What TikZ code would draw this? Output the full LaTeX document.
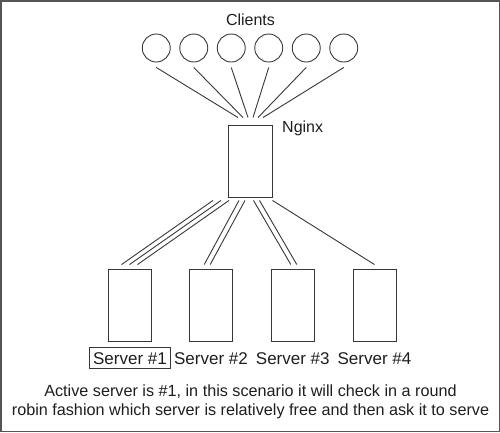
\documentclass[tikz,border=0pt]{standalone}
\usepackage{fontspec}
\setmainfont{Liberation Sans}
\definecolor{linec}{RGB}{55,55,55}
\definecolor{framec}{RGB}{85,85,85}
\definecolor{textc}{RGB}{30,30,30}
\begin{document}
\begin{tikzpicture}[x=1pt,y=-1pt,
  ln/.style={draw=linec, line width=0.9pt},
  client/.style={circle, draw=linec, line width=0.9pt, minimum size=28pt, inner sep=0pt},
  srvbox/.style={rectangle, draw=linec, line width=0.9pt, minimum width=43pt, minimum height=72pt, inner sep=0pt},
  lbl/.style={font=\fontsize{17}{20}\selectfont, text=textc, inner sep=0pt, inner xsep=4pt, text height=17pt, text depth=4pt, anchor=base},
  ttl/.style={font=\fontsize{16}{19}\selectfont, text=textc, inner sep=0pt},
  captxt/.style={font=\fontsize{16.2}{19.5}\selectfont, text=textc, inner sep=0pt, anchor=base}
]
\useasboundingbox (0,0) rectangle (500,432);
\draw[draw=framec, line width=1.5pt] (0.75,0.75) rectangle (499.25,431.25);

% clients
\node[ttl, anchor=base] (cl) at (250.5,25) {Clients};
\foreach \i in {0,...,5}
  \node[client] (c\i) at ({156.25+37.5*\i},48) {};

% nginx
\node[srvbox, minimum width=44pt] (ng) at (250,161) {};
\node[ttl, anchor=base west] (nglbl) at (282,132) {Nginx};

\foreach \i/\dx in {0/-12,1/-7,2/-2,3/3,4/8,5/13}
  \draw[ln] ([yshift=-5pt]c\i.south) -- ([xshift=\dx pt, yshift=7pt]ng.north);

% servers
\node[srvbox] (s1) at (129.5,305) {};
\node[srvbox] (s2) at (211.2,305) {};
\node[srvbox] (s3) at (292.8,305) {};
\node[srvbox] (s4) at (374.5,305) {};

\foreach \a/\b in {-37/-8,-29/0,-21/8}
  \draw[ln] ([xshift=\a pt, yshift=-3pt]ng.south) -- ([xshift=\b pt, yshift=4pt]s1.north);
\foreach \a/\b in {-11/-7,-5/-1}
  \draw[ln] ([xshift=\a pt, yshift=-3pt]ng.south) -- ([xshift=\b pt, yshift=4pt]s2.north);
\foreach \a/\b in {3.5/-2,9.5/4}
  \draw[ln] ([xshift=\a pt, yshift=-3pt]ng.south) -- ([xshift=\b pt, yshift=4pt]s3.north);
\draw[ln] ([xshift=22.5pt, yshift=-3pt]ng.south) -- ([yshift=4pt]s4.north);

% labels
\node[lbl, draw=linec, line width=0.8pt] (l1) at (130,364) {Server \#1};
\node[lbl] (l2) at (211,364) {Server \#2};
\node[lbl] (l3) at (292.8,364) {Server \#3};
\node[lbl] (l4) at (374.5,364) {Server \#4};

% caption
\node[captxt] (cap1) at (250.5,396) {Active server is \#1, in this scenario it will check in a round};
\node[captxt] (cap2) at (250.5,415.5) {robin fashion which server is relatively free and then ask it to serve};
\end{tikzpicture}
\end{document}
